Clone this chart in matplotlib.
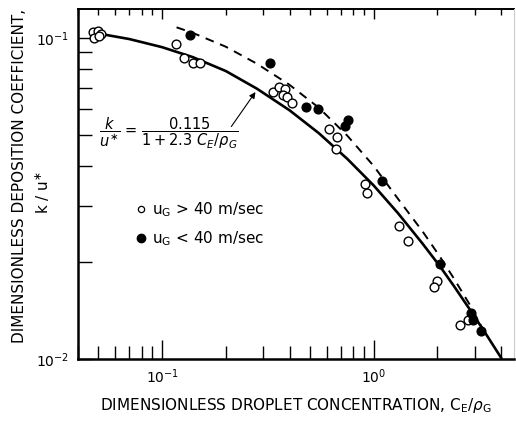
import matplotlib
matplotlib.use('Agg')
import matplotlib.pyplot as plt
from matplotlib.ticker import LogLocator, NullFormatter, FixedLocator

plt.rcParams['font.family'] = ['DejaVu Sans']
plt.rcParams['mathtext.fontset'] = 'dejavusans'

# open circles: u_G > 40 m/sec
open_x = [0.0473, 0.0499, 0.0515, 0.0478, 0.0505, 0.1165, 0.127, 0.140, 0.151,
          0.334, 0.356, 0.380, 0.372, 0.389, 0.410, 0.614, 0.669, 0.662,
          0.907, 0.927, 1.31, 1.46, 2.00, 1.92, 2.78, 2.57]
open_y = [0.1044, 0.105, 0.103, 0.100, 0.101, 0.0958, 0.0867, 0.0836, 0.0836,
          0.0679, 0.0704, 0.0693, 0.0664, 0.0655, 0.0627, 0.0521, 0.0492, 0.0451,
          0.0351, 0.0329, 0.0259, 0.0233, 0.0175, 0.0168, 0.0132, 0.0128]

# filled circles: u_G < 40 m/sec
fill_x = [0.1355, 0.323, 0.477, 0.544, 0.753, 0.730, 1.10, 2.05, 2.87, 2.96, 3.20]
fill_y = [0.102, 0.0836, 0.061, 0.060, 0.0556, 0.0532, 0.0359, 0.0198, 0.0139, 0.0132, 0.0122]

# correlation curve k/u* = 0.115/(1+2.3 C_E/rho_G), as drawn on the plot
solid_x = [0.05, 0.07, 0.1, 0.14, 0.2, 0.28, 0.4, 0.55, 0.75, 1.0, 1.3, 1.7,
           2.05, 2.4, 2.84, 3.35, 4.0]
solid_y = [0.1031, 0.0991, 0.0935, 0.0870, 0.0788, 0.0695, 0.0595, 0.0505, 0.0420,
           0.0347, 0.0285, 0.0229, 0.0195, 0.01684, 0.0143, 0.01213, 0.0101]

# dashed curve
dash_x = [0.117, 0.14, 0.2, 0.28, 0.4, 0.55, 0.75, 1.0, 1.3, 1.7, 2.05, 2.4, 2.84, 3.3]
dash_y = [0.1078, 0.1035, 0.0938, 0.0831, 0.0714, 0.0606, 0.0496, 0.0399, 0.0316,
          0.0250, 0.0209, 0.01777, 0.0148, 0.0123]

fig = plt.figure(figsize=(5.16, 4.24), dpi=100)
ax = fig.add_axes([0.151, 0.153, 0.845, 0.826])

ax.plot(solid_x, solid_y, color='black', lw=1.9, solid_joinstyle='round')
ax.plot(dash_x, dash_y, color='black', lw=1.4, dashes=(4.5, 3.5))
ax.plot(open_x, open_y, 'o', ms=6.3, mfc='white', mec='black', mew=1.0, ls='none')
ax.plot(fill_x, fill_y, 'o', ms=6.3, mfc='black', mec='black', ls='none')

ax.set_xscale('log')
ax.set_yscale('log')
ax.set_xlim(0.04, 4.6)
ax.set_ylim(0.01, 0.123)

subs = [2, 3, 4, 5, 6, 7, 8, 9]
ax.xaxis.set_major_locator(FixedLocator([0.1, 1.0]))
ax.xaxis.set_minor_locator(LogLocator(base=10, subs=subs))
ax.yaxis.set_major_locator(FixedLocator([0.01, 0.1]))
ax.yaxis.set_minor_locator(LogLocator(base=10, subs=subs))
ax.xaxis.set_minor_formatter(NullFormatter())
ax.yaxis.set_minor_formatter(NullFormatter())
ax.set_xticklabels([r'$10^{-1}$', r'$10^{0}$'])
ax.set_yticklabels([r'$10^{-2}$', r'$10^{-1}$'])

ax.tick_params(which='both', direction='in', top=False, right=False, width=1.0, labelsize=10)
ax.tick_params(axis='x', which='major', length=14, pad=6)
ax.tick_params(axis='x', which='minor', length=9.5)
ax.tick_params(axis='y', which='both', length=10, pad=6)

# short ticks along the top edge
top = ax.secondary_xaxis('top')
top.xaxis.set_major_locator(FixedLocator([0.1, 1.0]))
top.xaxis.set_minor_locator(LogLocator(base=10, subs=subs))
top.xaxis.set_major_formatter(NullFormatter())
top.xaxis.set_minor_formatter(NullFormatter())
top.tick_params(which='both', direction='in', width=1.0)
top.tick_params(which='major', length=7)
top.tick_params(which='minor', length=4.5)
top.spines['top'].set_linewidth(1.4)

for side in ['left', 'bottom']:
    ax.spines[side].set_linewidth(1.8)
ax.spines['top'].set_visible(False)
ax.spines['right'].set_linewidth(0.8)
ax.spines['right'].set_color('0.8')

ax.set_xlabel(r'DIMENSIONLESS DROPLET CONCENTRATION, C$_\mathregular{E}$/$\rho_\mathregular{G}$',
              fontsize=11, labelpad=7)
fig.text(0.038, 0.585, 'DIMENSIONLESS DEPOSITION COEFFICIENT,', rotation=90,
         ha='center', va='center', fontsize=11)
fig.text(0.083, 0.545, r'k / u$^{\ast}$', rotation=90, ha='center', va='center', fontsize=11)

# correlation equation with arrow to the solid curve
ax.text(0.0505, 0.0505, r'$\dfrac{k}{u^{\ast}}$ = $\dfrac{0.115}{1 + 2.3\ C_E / \rho_G}$',
        fontsize=10.5, va='center', ha='left')
ax.annotate('', xy=(0.281, 0.0689), xytext=(0.207, 0.0524),
            arrowprops=dict(arrowstyle='-|>', color='black', lw=0.8, mutation_scale=9,
                            connectionstyle='angle,angleA=0,angleB=55,rad=0'))

ax.plot([], [], 'o', ms=4.5, mfc='white', mec='black', mew=0.9, ls='none',
        label=r'u$_\mathregular{G}$ > 40 m/sec')
ax.plot([], [], 'o', ms=6, mfc='black', mec='black', ls='none',
        label=r'u$_\mathregular{G}$ < 40 m/sec')
handles, labels = ax.get_legend_handles_labels()
ax.legend(handles[-2:], labels[-2:], frameon=False, loc='upper left',
          bbox_to_anchor=(0.099, 0.494), fontsize=11, handletextpad=0.3,
          handlelength=0.8, labelspacing=0.7)

fig.savefig('out.png', dpi=100)
